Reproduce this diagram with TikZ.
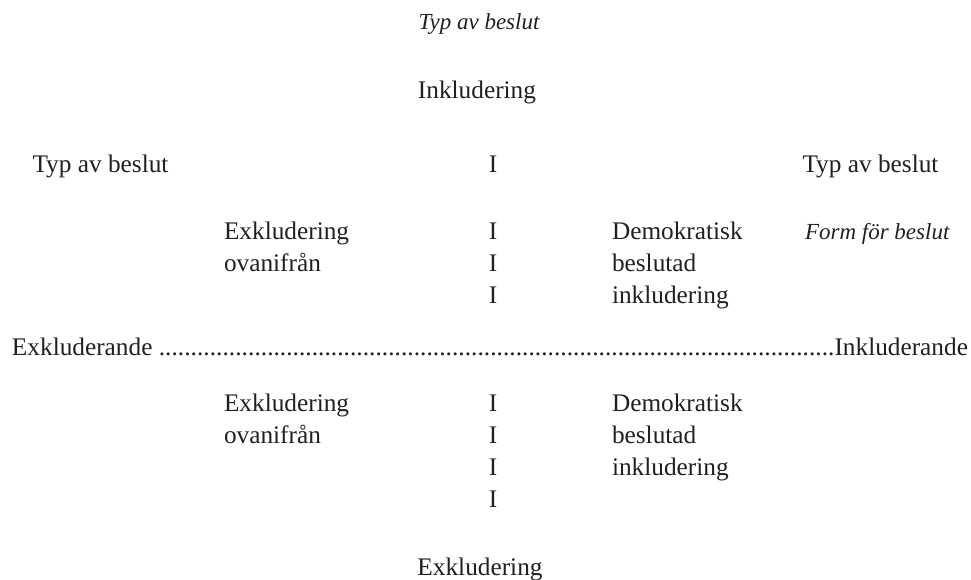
\documentclass[tikz,border=0pt]{standalone}
\usepackage{fontspec}
\setmainfont{Liberation Serif}
\definecolor{ink}{RGB}{35,31,32}
\begin{document}
\begin{tikzpicture}[x=1pt,y=-1pt,
  every node/.style={inner sep=0pt, outer sep=0pt, text=ink, font=\fontsize{25.3}{32}\selectfont},
  it/.style={font=\fontsize{23}{32}\selectfont\itshape},
  lbl/.style={anchor=base west},
  ctr/.style={anchor=base}]
\useasboundingbox (0,0) rectangle (971,580);
% top
\node[it, ctr] (title) at (479,30) {Typ av beslut};
\node[ctr] (top) at (477,99) {Inkludering};
% row of headings
\node[ctr] (tl) at (100.5,172) {Typ av beslut};
\node[ctr] (i0) at (493,172) {I};
\node[ctr] (tr) at (870.5,172) {Typ av beslut};
% upper quadrant
\node[lbl] (exa) at (224,239) {Exkludering};
\node[lbl] (ova) at (224,271) {ovanifrån};
\node[ctr] (i1) at (493,239) {I};
\node[ctr] (i2) at (493,271) {I};
\node[ctr] (i3) at (493,303) {I};
\node[lbl] (dea) at (612,239) {Demokratisk};
\node[lbl] (bea) at (612,271) {beslutad};
\node[lbl] (ina) at (612,303) {inkludering};
\node[it, lbl] (form) at (805,239) {Form för beslut};
% horizontal axis
\node[lbl] (axis) at (12,355) {\hbox to 956pt{Exkluderande\ \xleaders\hbox{.}\hfill Inkluderande}};
% lower quadrant
\node[lbl] (exb) at (224,411) {Exkludering};
\node[lbl] (ovb) at (224,443) {ovanifrån};
\node[ctr] (i4) at (493,411) {I};
\node[ctr] (i5) at (493,443) {I};
\node[ctr] (i6) at (493,475) {I};
\node[ctr] (i7) at (493,507) {I};
\node[lbl] (deb) at (612,411) {Demokratisk};
\node[lbl] (beb) at (612,443) {beslutad};
\node[lbl] (inb) at (612,475) {inkludering};
% bottom
\node[ctr] (bot) at (480,575) {Exkludering};
\end{tikzpicture}
\end{document}
